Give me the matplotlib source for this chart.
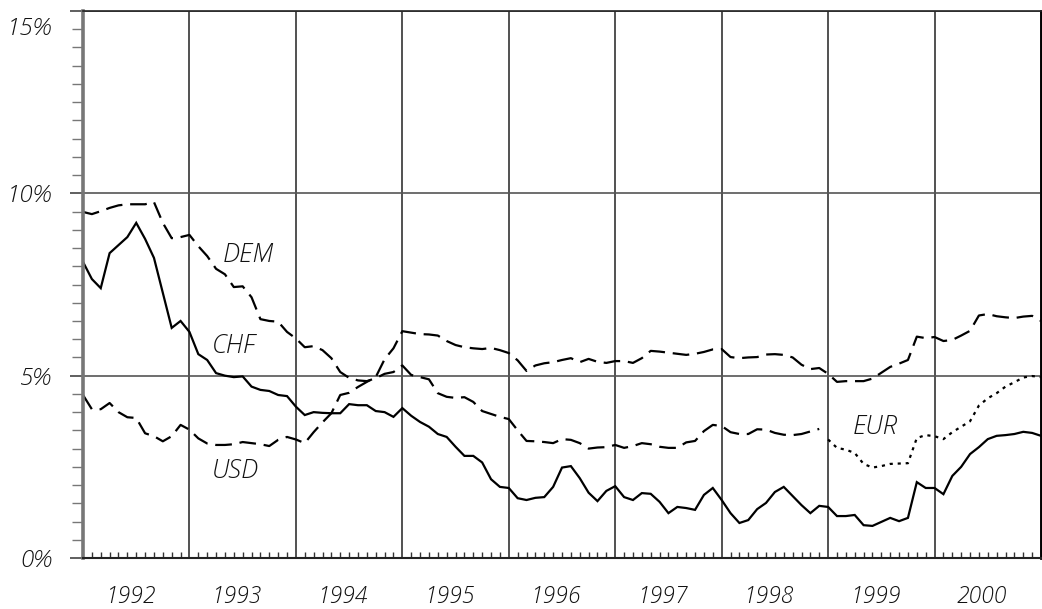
import numpy as np
import matplotlib
matplotlib.use('Agg')
import matplotlib.pyplot as plt
from matplotlib.ticker import MultipleLocator, FixedLocator, NullFormatter
from matplotlib.transforms import blended_transform_factory

plt.rcParams['font.family'] = ['Open Sans', 'DejaVu Sans']

# monthly rates in %, Jan 1992 .. Jan 2001
chf = [8.12, 7.65, 7.40, 8.36, 8.58, 8.80, 9.19, 8.75, 8.23, 7.27, 6.31, 6.50,
       6.20, 5.59, 5.43, 5.07, 5.00, 4.96, 4.98, 4.70, 4.61, 4.58, 4.47, 4.44,
       4.15, 3.92, 4.00, 3.98, 3.97, 3.97, 4.22, 4.19, 4.19, 4.03, 4.00, 3.87,
       4.11, 3.90, 3.73, 3.60, 3.40, 3.32, 3.05, 2.80, 2.80, 2.62, 2.16, 1.95,
       1.92, 1.64, 1.59, 1.65, 1.67, 1.95, 2.48, 2.52, 2.19, 1.79, 1.56, 1.84,
       1.97, 1.67, 1.59, 1.78, 1.76, 1.54, 1.23, 1.40, 1.37, 1.32, 1.73, 1.92,
       1.59, 1.23, 0.96, 1.04, 1.34, 1.51, 1.81, 1.95, 1.70, 1.45, 1.23, 1.43,
       1.40, 1.15, 1.15, 1.18, 0.90, 0.88, 0.99, 1.10, 1.01, 1.10, 2.08, 1.92,
       1.92, 1.75, 2.25, 2.50, 2.85, 3.04, 3.26, 3.35, 3.37, 3.40, 3.46, 3.43,
       3.35]

dem = [9.49, 9.43, 9.51, 9.60, 9.67, 9.70, 9.70, 9.70, 9.76, 9.19, 8.77, 8.80,
       8.86, 8.55, 8.28, 7.93, 7.78, 7.43, 7.45, 7.15, 6.55, 6.50, 6.48, 6.20,
       6.02, 5.78, 5.81, 5.70, 5.48, 5.10, 4.94, 4.87, 4.85, 4.93, 5.05, 5.10,
       5.28, 5.02, 4.96, 4.90, 4.52, 4.42, 4.39, 4.41, 4.28, 4.03, 3.95, 3.87,
       3.81, 3.50, 3.21, 3.20, 3.18, 3.15, 3.26, 3.24, 3.15, 3.00, 3.03, 3.04,
       3.10, 3.02, 3.07, 3.15, 3.12, 3.05, 3.02, 3.02, 3.17, 3.21, 3.48, 3.65,
       3.62, 3.45, 3.40, 3.40, 3.53, 3.52, 3.43, 3.38, 3.37, 3.40, 3.47, 3.54]

eur = [3.25, 3.02, 2.97, 2.88, 2.58, 2.48, 2.52, 2.58, 2.59, 2.60, 3.29, 3.37,
       3.34, 3.26, 3.45, 3.60, 3.75, 4.18, 4.38, 4.52, 4.70, 4.82, 4.95, 4.99,
       4.96]

usd = [4.47, 4.08, 4.08, 4.25, 4.00, 3.86, 3.84, 3.42, 3.34, 3.20, 3.34, 3.65,
       3.52, 3.28, 3.14, 3.10, 3.10, 3.12, 3.18, 3.15, 3.12, 3.07, 3.24, 3.32,
       3.25, 3.15, 3.45, 3.72, 3.97, 4.47, 4.53, 4.69, 4.83, 4.96, 5.45, 5.75,
       6.22, 6.18, 6.14, 6.13, 6.10, 5.95, 5.84, 5.78, 5.75, 5.73, 5.76, 5.70,
       5.62, 5.42, 5.13, 5.28, 5.34, 5.37, 5.43, 5.48, 5.37, 5.46, 5.38, 5.35,
       5.40, 5.40, 5.35, 5.48, 5.68, 5.66, 5.63, 5.60, 5.57, 5.60, 5.65, 5.72,
       5.73, 5.51, 5.48, 5.50, 5.51, 5.58, 5.59, 5.57, 5.50, 5.30, 5.18, 5.21,
       5.05, 4.83, 4.85, 4.85, 4.85, 4.92, 5.08, 5.24, 5.33, 5.43, 6.07, 6.03,
       6.06, 5.95, 5.98, 6.10, 6.23, 6.65, 6.69, 6.63, 6.60, 6.58, 6.62, 6.64,
       6.50]

years = list(range(1992, 2001))
x = 1992 + np.arange(len(chf)) / 12.0

fig = plt.figure(figsize=(10.42, 6.09), dpi=100)
ax = fig.add_axes([83 / 1042, 1 - 558 / 609, 958 / 1042, 547 / 609])

lw = 1.6
ax.plot(x, chf, color='black', lw=lw, solid_joinstyle='miter')
ax.plot(x[:len(dem)], dem, color='black', lw=lw, dashes=(7.5, 3.5))
ax.plot(x, usd, color='black', lw=lw, dashes=(7.5, 3.5))
ax.plot(x[len(dem):], eur, color='black', lw=lw, dashes=(1.4, 2.2))

ax.set_xlim(1992, 2001)
ax.set_ylim(0, 15)

txt = dict(style='italic', weight='light', color='#111111')

# year grid and month ticks
ax.xaxis.set_major_locator(FixedLocator(list(range(1992, 2002))))
ax.xaxis.set_minor_locator(MultipleLocator(1 / 12))
ax.xaxis.set_major_formatter(NullFormatter())
ax.tick_params(axis='x', which='major', length=0)
ax.tick_params(axis='x', which='minor', direction='in', length=4, width=1, color='#333333')
ax.grid(axis='x', which='major', color='#222222', lw=1.1)

ax.yaxis.set_major_locator(FixedLocator([0, 5, 10, 15]))
ax.yaxis.set_minor_locator(MultipleLocator(0.5))
ax.set_yticklabels(['0%', '5%', '10%', ''], fontsize=17.5, **txt)
ax.tick_params(axis='y', which='major', direction='out', length=9.5, width=1.2,
               color='#444444', pad=13)
ax.tick_params(axis='y', which='minor', direction='out', length=8, width=1,
               color='#777777')
ax.grid(axis='y', which='major', color='#555555', lw=1.2)

trans = blended_transform_factory(ax.transAxes, ax.transData)
ax.text(-31 / 958, 14.5, '15%', transform=trans, ha='right', va='center',
        fontsize=17.5, **txt)

xtrans = blended_transform_factory(ax.transData, ax.transAxes)
for yr in years:
    ax.text(yr + 0.44, -39 / 547, str(yr), transform=xtrans, ha='center', va='center',
            fontsize=16.5, **txt)

ax.spines['left'].set_color('#777777')
ax.spines['left'].set_linewidth(2.6)
ax.spines['right'].set_color('black')
ax.spines['right'].set_linewidth(2)
ax.spines['top'].set_color('#222222')
ax.spines['top'].set_linewidth(1.2)
ax.spines['bottom'].set_color('#222222')
ax.spines['bottom'].set_linewidth(1.5)

for name, tx, ty in [('DEM', 1993.31, 8.30), ('CHF', 1993.21, 5.80),
                     ('USD', 1993.21, 2.38), ('EUR', 1999.23, 3.58)]:
    ax.text(tx, ty, name, ha='left', va='center', fontsize=18.5, **txt)

fig.savefig('out.png', dpi=100)
